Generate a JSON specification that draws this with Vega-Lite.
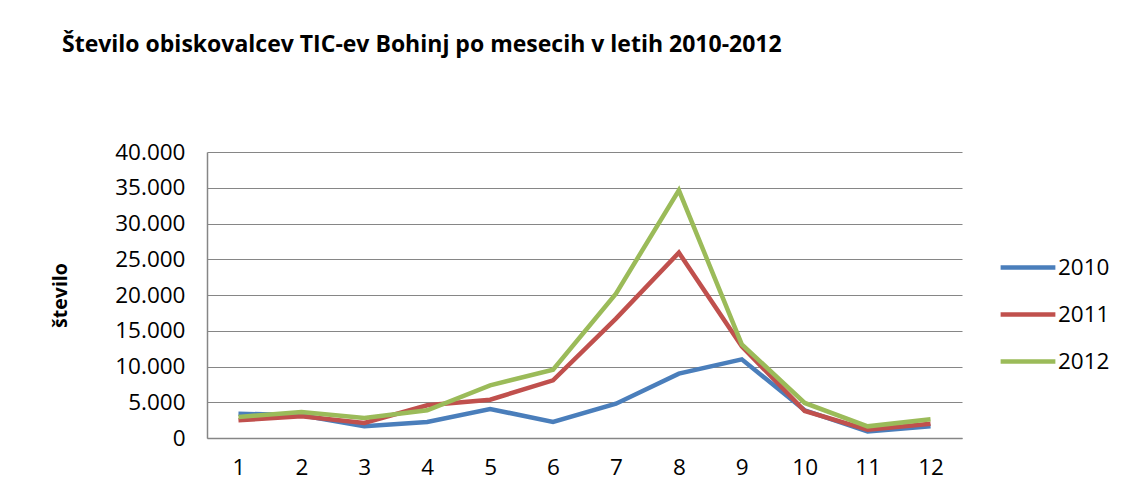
{
  "$schema": "https://vega.github.io/schema/vega-lite/v6.json",
  "width": 755,
  "height": 286,
  "autosize": {"type": "none"},
  "padding": {"left": 207, "top": 152, "right": 161, "bottom": 57},
  "background": "white",
  "title": {
    "text": "Število obiskovalcev TIC-ev Bohinj po mesecih v letih 2010-2012",
    "anchor": "start",
    "frame": "group",
    "dx": -145,
    "offset": 84,
    "font": "Open Sans",
    "fontSize": 23,
    "fontWeight": "bold",
    "color": "#000000"
  },
  "config": {
    "view": {"stroke": null},
    "axis": {
      "labelFont": "Open Sans",
      "titleFont": "Open Sans",
      "labelColor": "#000000",
      "titleColor": "#000000",
      "domainColor": "#868686",
      "gridColor": "#868686",
      "tickColor": "#868686"
    }
  },
  "data": {
    "values": [
      {"mesec": 1, "leto": "2010", "stevilo": 3400},
      {"mesec": 2, "leto": "2010", "stevilo": 3170},
      {"mesec": 3, "leto": "2010", "stevilo": 1630},
      {"mesec": 4, "leto": "2010", "stevilo": 2240},
      {"mesec": 5, "leto": "2010", "stevilo": 4060},
      {"mesec": 6, "leto": "2010", "stevilo": 2240},
      {"mesec": 7, "leto": "2010", "stevilo": 4800},
      {"mesec": 8, "leto": "2010", "stevilo": 9000},
      {"mesec": 9, "leto": "2010", "stevilo": 11000},
      {"mesec": 10, "leto": "2010", "stevilo": 3870},
      {"mesec": 11, "leto": "2010", "stevilo": 930},
      {"mesec": 12, "leto": "2010", "stevilo": 1630},
      {"mesec": 1, "leto": "2011", "stevilo": 2470},
      {"mesec": 2, "leto": "2011", "stevilo": 3030},
      {"mesec": 3, "leto": "2011", "stevilo": 2100},
      {"mesec": 4, "leto": "2011", "stevilo": 4570},
      {"mesec": 5, "leto": "2011", "stevilo": 5360},
      {"mesec": 6, "leto": "2011", "stevilo": 8070},
      {"mesec": 7, "leto": "2011", "stevilo": 16690},
      {"mesec": 8, "leto": "2011", "stevilo": 25920},
      {"mesec": 9, "leto": "2011", "stevilo": 12820},
      {"mesec": 10, "leto": "2011", "stevilo": 3780},
      {"mesec": 11, "leto": "2011", "stevilo": 1170},
      {"mesec": 12, "leto": "2011", "stevilo": 2000},
      {"mesec": 1, "leto": "2012", "stevilo": 2940},
      {"mesec": 2, "leto": "2012", "stevilo": 3640},
      {"mesec": 3, "leto": "2012", "stevilo": 2800},
      {"mesec": 4, "leto": "2012", "stevilo": 3870},
      {"mesec": 5, "leto": "2012", "stevilo": 7370},
      {"mesec": 6, "leto": "2012", "stevilo": 9560},
      {"mesec": 7, "leto": "2012", "stevilo": 20190},
      {"mesec": 8, "leto": "2012", "stevilo": 34640},
      {"mesec": 9, "leto": "2012", "stevilo": 13100},
      {"mesec": 10, "leto": "2012", "stevilo": 4900},
      {"mesec": 11, "leto": "2012", "stevilo": 1630},
      {"mesec": 12, "leto": "2012", "stevilo": 2610}
    ]
  },
  "mark": {"type": "line", "strokeWidth": 4.5, "strokeJoin": "miter"},
  "encoding": {
    "x": {
      "field": "mesec",
      "type": "ordinal",
      "scale": {"type": "point", "padding": 0.5},
      "axis": {
        "title": null,
        "labelAngle": 0,
        "labelFontSize": 22.5,
        "labelPadding": 18,
        "ticks": false,
        "grid": false,
        "domainWidth": 1.5
      }
    },
    "y": {
      "field": "stevilo",
      "type": "quantitative",
      "scale": {"domain": [0, 40000], "nice": false},
      "axis": {
        "title": "število",
        "titleFontSize": 19.5,
        "titleFontWeight": "bold",
        "titleX": -147,
        "titleY": 143,
        "titleAlign": "center",
        "titleBaseline": "middle",
        "values": [0, 5000, 10000, 15000, 20000, 25000, 30000, 35000, 40000],
        "labelExpr": "replace(format(datum.value, ','), ',', '.')",
        "labelFontSize": 22.5,
        "labelPadding": 22,
        "ticks": false,
        "grid": true,
        "gridWidth": 1.2,
        "domainWidth": 1.5
      }
    },
    "color": {
      "field": "leto",
      "type": "nominal",
      "scale": {"domain": ["2010", "2011", "2012"], "range": ["#4A7EBB", "#C0504D", "#9BBB59"]},
      "legend": {
        "title": null,
        "orient": "none",
        "legendX": 791,
        "legendY": 92,
        "symbolType": "stroke",
        "symbolSize": 3000,
        "symbolStrokeWidth": 4.5,
        "clipHeight": 47,
        "rowPadding": 0,
        "labelFont": "Open Sans",
        "labelFontSize": 22.5,
        "labelColor": "#000000",
        "labelOffset": 0
      }
    }
  }
}
